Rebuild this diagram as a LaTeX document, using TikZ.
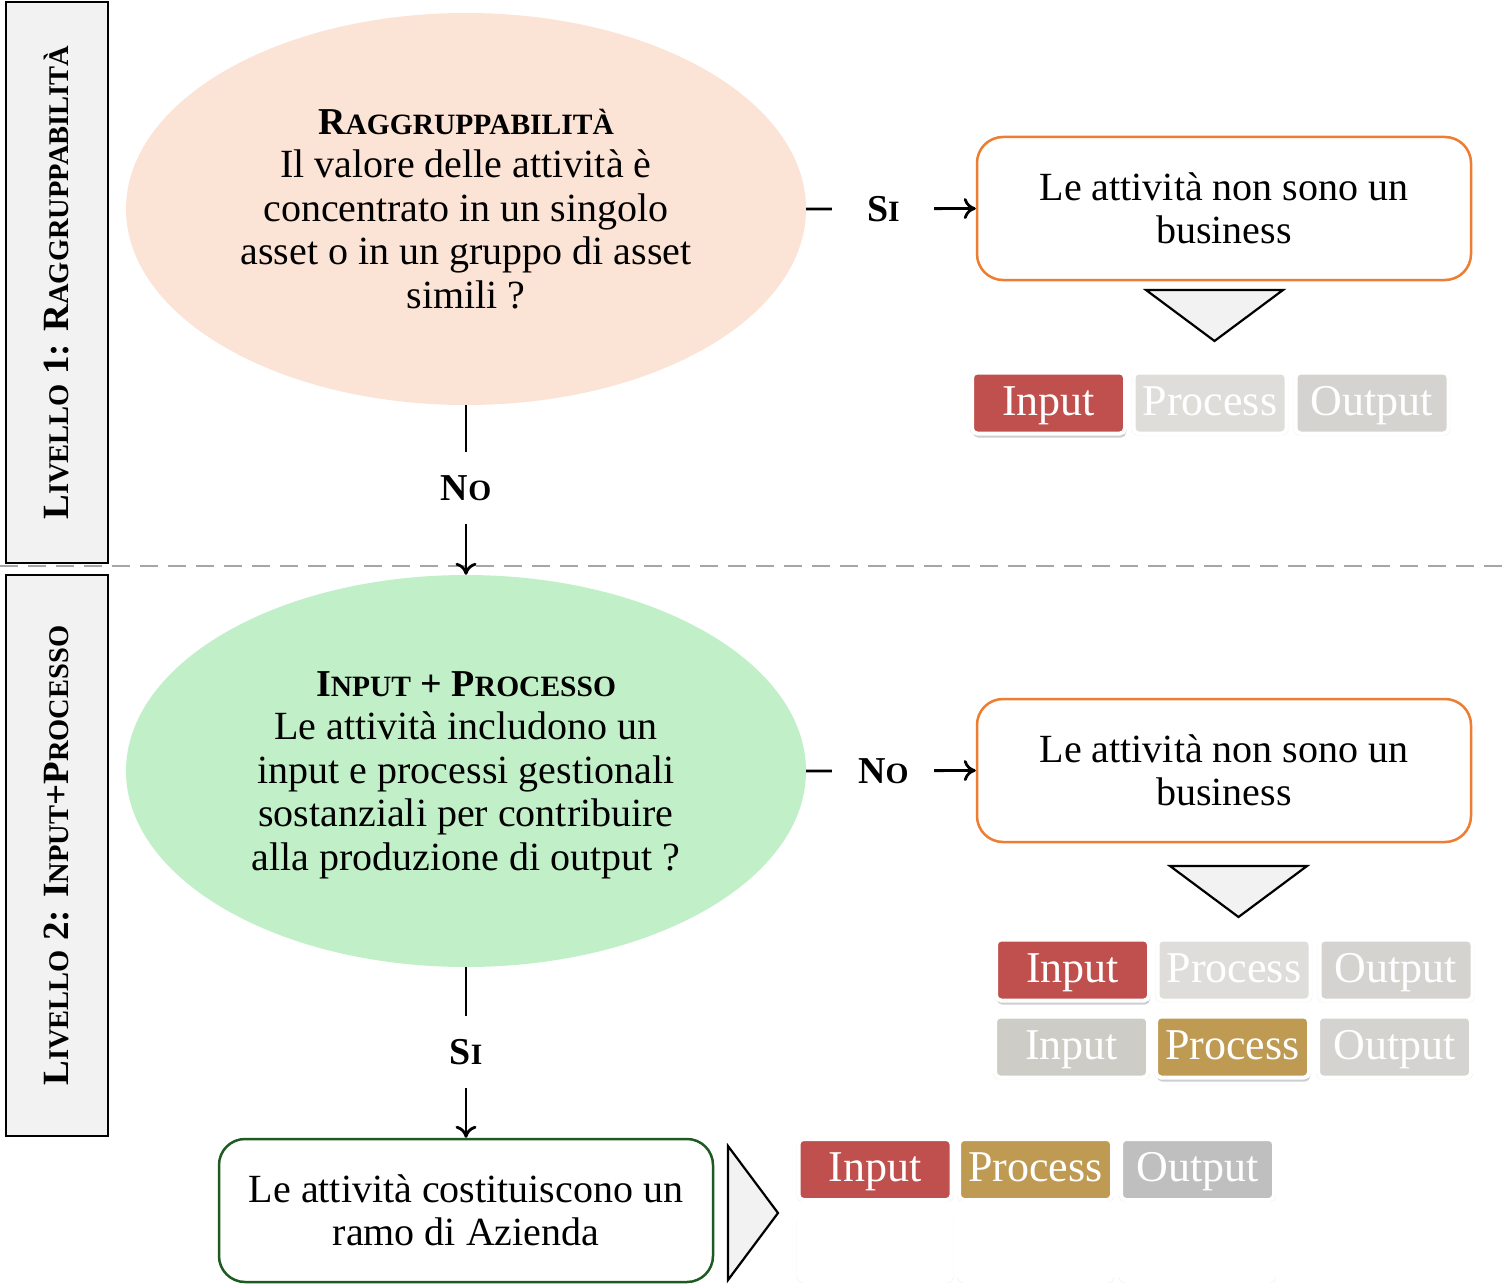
\documentclass[tikz,border=0pt]{standalone}
\usepackage{fontspec}
\setmainfont{Liberation Serif}
\usetikzlibrary{shapes.geometric,arrows.meta,shadows}

\definecolor{peach}{HTML}{FBE3D6}
\definecolor{mint}{HTML}{C1F0C8}
\definecolor{bandgray}{HTML}{F2F2F2}
\definecolor{orangeedge}{HTML}{ED7D31}
\definecolor{greenedge}{HTML}{1E5B23}
\definecolor{dashgray}{HTML}{A6A6A6}
\definecolor{chipred}{HTML}{C0504D}
\definecolor{chipgold}{HTML}{BE9A52}
\definecolor{chipgrayA}{HTML}{DEDDD9}
\definecolor{chipgrayB}{HTML}{D4D3CF}
\definecolor{chipgrayC}{HTML}{CDCCC7}
\definecolor{chipgrayD}{HTML}{BFBFBF}

\newcommand{\bodyfont}{\fontsize{40}{43.5}\selectfont}
% small capitals built from two sizes of capitals
\newcommand{\capsb}[2]{#1{\fontsize{29.5}{36}\selectfont #2}}
\newcommand{\capsl}[2]{#1{\fontsize{28.5}{36}\selectfont #2}}

\tikzset{
  band/.style={draw=black, fill=bandgray, line width=2pt, rotate=90,
    minimum width=561pt, minimum height=102pt, inner sep=0pt,
    font=\fontsize{37}{44}\selectfont\bfseries},
  question/.style={ellipse, minimum width=680pt, minimum height=392pt,
    inner sep=0pt, align=center, font=\bodyfont},
  outcome/.style={rectangle, rounded corners=26pt, line width=2.5pt,
    minimum width=494pt, minimum height=143pt, align=center, font=\bodyfont},
  link/.style={line width=2.8pt, -{To[length=12pt,width=21pt,line width=2.8pt]}},
  hlabel/.style={fill=white, minimum width=102pt, inner sep=0pt,
    font=\fontsize{38}{43.5}\selectfont\bfseries},
  vlabel/.style={fill=white, minimum height=72pt, inner sep=0pt,
    font=\fontsize{38}{43.5}\selectfont\bfseries},
  pointer/.style={draw=black, fill=bandgray, line width=2.2pt, line join=miter},
  chip/.style={rectangle, rounded corners=5pt, draw=white, line width=4pt,
    minimum width=153pt, minimum height=61pt, inner sep=0pt, text=white,
    text height=32pt, text depth=8pt,
    font=\fontsize{44}{48}\selectfont,
    drop shadow={shadow xshift=0pt, shadow yshift=-1pt, opacity=0.16, shadow scale=1.025}},
  activechip/.style={chip,
    drop shadow={shadow xshift=1pt, shadow yshift=-4pt, opacity=0.38}},
}

\begin{document}
\begin{tikzpicture}[x=1pt,y=-1pt]
\useasboundingbox (0,0) rectangle (1504,1284);
\fill[white] (0,0) rectangle (1504,1284);

% level separator
\coordinate (sepL) at (0,566);
\coordinate (sepR) at (1504,566);
\draw[dashgray, line width=2.5pt, dash pattern=on 18pt off 10pt] (sepL) -- (sepR);

% level bands
\node[band] (lv1) at (57,282.5) {\capsl{L}{IVELLO} 1: \capsl{R}{AGGRUPPABILITÀ}};
\node[band] (lv2) at (57,855.5) {\capsl{L}{IVELLO} 2: \capsl{I}{NPUT}+\capsl{P}{ROCESSO}};

% questions
\node[question, fill=peach] (q1) at (466,209)
  {{\fontsize{38}{43.5}\selectfont\bfseries\capsb{R}{AGGRUPPABILITÀ}}\\
   Il valore delle attività è\\
   concentrato in un singolo\\
   asset o in un gruppo di asset\\
   simili ?};
\node[question, fill=mint] (q2) at (466,771)
  {{\fontsize{38}{43.5}\selectfont\bfseries\vphantom{À}\capsb{I}{NPUT} + \capsb{P}{ROCESSO}}\\
   Le attività includono un\\
   input e processi gestionali\\
   sostanziali per contribuire\\
   alla produzione di output ?};

% outcomes
\node[outcome, draw=orangeedge] (r1) at (1224,208.5)
  {Le attività non sono un\\ business};
\node[outcome, draw=orangeedge] (r2) at (1224,770.5)
  {Le attività non sono un\\ business};
\node[outcome, draw=greenedge] (r3) at (466,1210.5)
  {Le attività costituiscono un\\ ramo di Azienda};

% decisions
\draw[link] (q1.east) -- node[hlabel, pos=0.455] {\capsb{S}{I}} (r1.west);
\draw[link] (q1.south) -- node[vlabel, pos=0.49] {\capsb{N}{O}} (q2.north);
\draw[link] (q2.east) -- node[hlabel, pos=0.455] {\capsb{N}{O}} (r2.west);
\draw[link] (q2.south) -- node[vlabel, pos=0.5] {\capsb{S}{I}} (r3.north);

% pointers
\draw[pointer] (1146,290) -- (1283,290) -- (1214.5,341) -- cycle;
\draw[pointer] (1170,866) -- (1307,866) -- (1238.5,917) -- cycle;
\draw[pointer] (728,1146) -- (728,1280) -- (778,1213) -- cycle;

% input / process / output chips
\node[activechip, fill=chipred]  (a1) at (1048.5,403)  {Input};
\node[chip, fill=chipgrayA]      (a2) at (1210,403)    {Process};
\node[chip, fill=chipgrayB]      (a3) at (1372,403)    {Output};

\node[activechip, fill=chipred]  (b1) at (1072.5,970)  {Input};
\node[chip, fill=chipgrayA]      (b2) at (1234,970)    {Process};
\node[chip, fill=chipgrayB]      (b3) at (1396,970)    {Output};

\node[chip, fill=chipgrayC]      (c1) at (1071.5,1047) {Input};
\node[activechip, fill=chipgold] (c2) at (1232.5,1047) {Process};
\node[chip, fill=chipgrayB]      (c3) at (1394.5,1047) {Output};

\node[chip, fill=chipred]        (d1) at (875,1169.5)  {Input};
\node[chip, fill=chipgold]       (d2) at (1035.5,1169.5) {Process};
\node[chip, fill=chipgrayD]      (d3) at (1197.5,1169.5) {Output};

\node[chip, fill=white, minimum height=66pt] (e1) at (875,1248) {};
\node[chip, fill=white, minimum height=66pt] (e2) at (1035.5,1248) {};
\node[chip, fill=white, minimum height=66pt] (e3) at (1197.5,1248) {};
\end{tikzpicture}
\end{document}
